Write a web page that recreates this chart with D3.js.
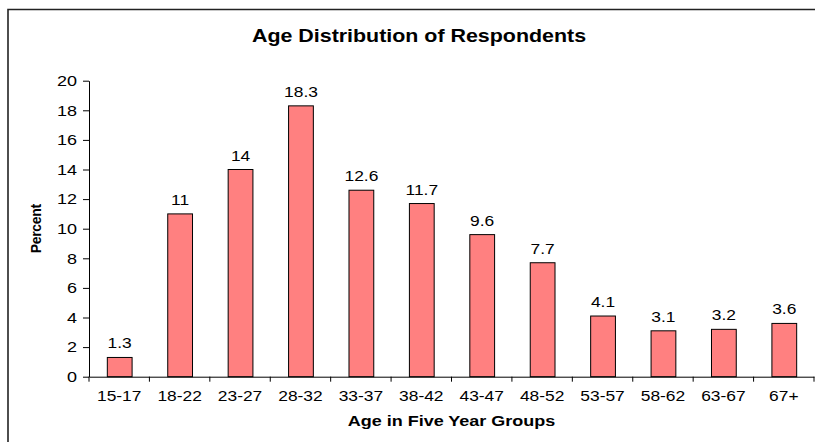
<!DOCTYPE html>
<html><head><meta charset="utf-8">
<script src="https://cdn.jsdelivr.net/npm/d3@7"></script>
<style>body{margin:0;background:#fff}svg{display:block}</style>
</head><body>
<svg id="c" width="815" height="442"></svg>
<script>
const categories = ["15-17","18-22","23-27","28-32","33-37","38-42","43-47","48-52","53-57","58-62","63-67","67+"];
const values = [1.3,11,14,18.3,12.6,11.7,9.6,7.7,4.1,3.1,3.2,3.6];
const yTicks = [0,2,4,6,8,10,12,14,16,18,20];
const title = "Age Distribution of Respondents";
const xTitle = "Age in Five Year Groups";
const yTitle = "Percent";

const svg = d3.select("#c");
const font = "Arial, 'Liberation Sans', sans-serif";
const SX = 1.2; // horizontal stretch of text in the reference
// frame
svg.append("path").attr("d","M8,450 L8,9.5 L820,9.5").attr("fill","none").attr("stroke","#222").attr("stroke-width",1.6);

const m = {l:89, r:814, t:80.7, b:376.7};
const x = d3.scaleBand().domain(categories).range([m.l, m.r]).paddingInner(0).paddingOuter(0);
const y = d3.scaleLinear().domain([0,20]).range([m.b, m.t]);

const bw = x.bandwidth()*0.41;
svg.selectAll("rect.bar").data(values).join("rect")
  .attr("x",(d,i)=>x(categories[i])+x.bandwidth()/2-bw/2+0.5)
  .attr("y",d=>y(d)).attr("width",bw).attr("height",d=>y(0)-y(d))
  .attr("fill","#FF8080").attr("stroke","#000").attr("stroke-width",1);

svg.selectAll("text.val").data(values).join("text")
  .attr("transform",(d,i)=>`translate(${x(categories[i])+x.bandwidth()/2+0.5},${y(d)-9}) scale(${SX},1)`)
  .attr("text-anchor","middle")
  .attr("font-family",font).attr("font-size",14.5).text(d=>d);

// y axis
const ya = svg.append("g").attr("transform",`translate(${m.l},0)`)
  .call(d3.axisLeft(y).tickValues(yTicks).tickSize(6).tickSizeOuter(0).tickPadding(6));
ya.selectAll("text").attr("x",0).attr("transform",`translate(-12,0) scale(${SX},1)`)
  .attr("font-family",font).attr("font-size",15).attr("fill","#000");
ya.selectAll("line,path").attr("stroke","#000");

// x axis
const xa = svg.append("g").attr("transform",`translate(0,${m.b})`)
  .call(d3.axisBottom(x).tickSize(0).tickPadding(14));
xa.select("path").attr("stroke","#000");
xa.selectAll("text").attr("transform",`scale(${SX},1)`).attr("x",0)
  .attr("font-family",font).attr("font-size",14.5).attr("fill","#000");
const bounds = categories.map(c=>x(c)).concat([m.r]);
svg.selectAll("line.xt").data(bounds).join("line")
  .attr("x1",d=>d).attr("x2",d=>d).attr("y1",m.b).attr("y2",m.b+5).attr("stroke","#000");

svg.append("text").attr("transform",`translate(419,42) scale(1.19,1)`).attr("text-anchor","middle")
  .attr("font-family",font).attr("font-size",18).attr("font-weight","bold").text(title);
svg.append("text").attr("transform",`translate(${(m.l+m.r)/2},426) scale(${SX},1)`).attr("text-anchor","middle")
  .attr("font-family",font).attr("font-size",15).attr("font-weight","bold").text(xTitle);
svg.append("text").attr("transform",`translate(41,${(m.t+m.b)/2}) scale(1.05,1) rotate(-90)`).attr("text-anchor","middle")
  .attr("font-family",font).attr("font-size",14).attr("font-weight","bold").attr("letter-spacing","-0.3").text(yTitle);
</script>
</body></html>
